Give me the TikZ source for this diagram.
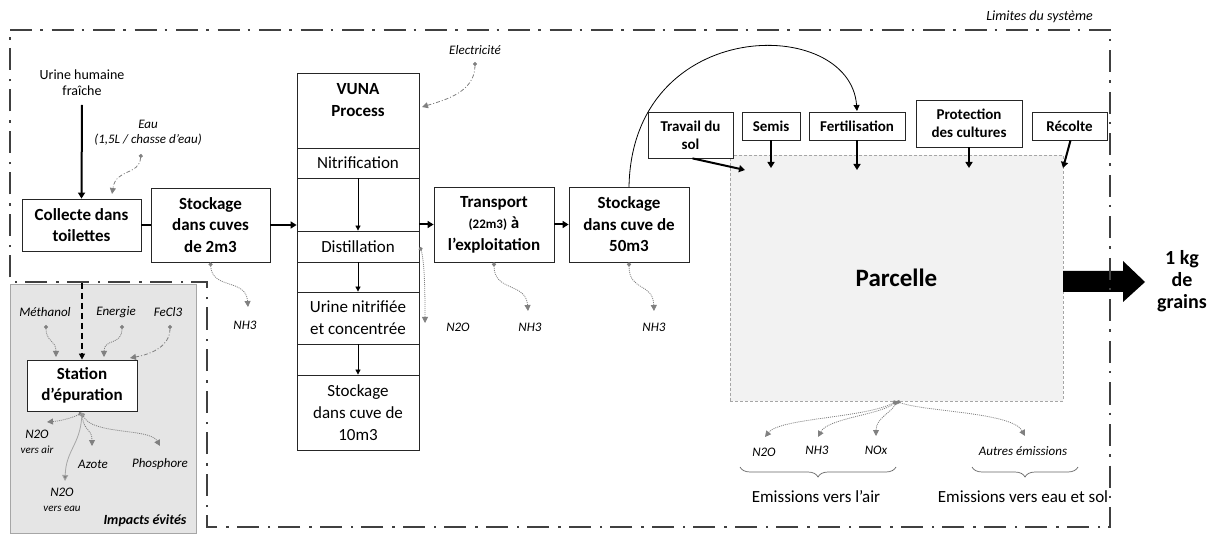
\documentclass[tikz,border=0pt]{standalone}
\usepackage{fontspec}
\setmainfont{Carlito}
\usetikzlibrary{arrows.meta,decorations.pathreplacing,calc}
\begin{document}
\begin{tikzpicture}[x=1pt,y=-1pt,
  box/.style={draw=black!85,line width=0.8pt,fill=white,align=center,inner sep=0pt},
  bt/.style={font=\fontsize{17}{21.5}\selectfont\bfseries},
  nt/.style={font=\fontsize{17}{22}\selectfont},
  st/.style={font=\fontsize{15}{18}\selectfont\bfseries},
  lab/.style={font=\fontsize{13}{15}\selectfont\itshape,text=black,inner sep=0pt,align=center},
  thickarr/.style={line width=2pt,-{Triangle[length=6pt,width=7pt]}},
  thinarr/.style={line width=0.8pt,-{Triangle[length=5pt,width=5pt]}},
  gcon/.style={draw=gray,line width=0.8pt,{Circle[length=4pt,fill=gray]}-{Triangle[length=6pt,width=6pt,fill=gray]}},
  gdot/.style={dash pattern=on 1pt off 1pt},
  gdd/.style={dash pattern=on 4pt off 2pt on 1pt off 2pt},
]
\useasboundingbox (0,0) rectangle (1215,534);

% Impacts evites zone
\draw[fill=gray!20,draw=gray!70,line width=0.6pt] (10,284) rectangle (196,533.5);
\node[anchor=east,font=\fontsize{14}{16}\selectfont\bfseries\itshape] (impacts) at (190,521) {Impacts évités};

% Parcelle
\node[draw=gray!70,fill=gray!10,line width=0.6pt,dash pattern=on 3pt off 2pt,minimum width=333pt,minimum height=246pt,inner sep=0pt,font=\fontsize{25}{28}\selectfont\bfseries] (parcelle) at (896.5,278) {Parcelle};

% Output big arrow
\fill[black] (1063,271) -- (1123,271) -- (1123,261) -- (1145,282) -- (1123,302) -- (1123,292) -- (1063,292) -- cycle;
\node[align=center,font=\fontsize{20}{22}\selectfont\bfseries,inner sep=0pt] (grains) at (1182,281) {1 kg\\de\\grains};

% Big curve from stockage 50 to fertilisation
\coordinate (curvestart) at (629,187);
\coordinate (fertin) at (857,111);

% Left chain
\node[align=center,font=\fontsize{14}{16}\selectfont,inner sep=0pt] (urine) at (82,83) {Urine humaine\\fraîche};
\node[box,bt,minimum width=119pt,minimum height=52pt] (collecte) at (81.5,225) {Collecte dans\\toilettes};
\node[lab] (eau) at (148,133) {Eau\\(1,5L / chasse d’eau)};
\node[box,bt,minimum width=119pt,minimum height=74pt] (stock2) at (210.5,225) {Stockage\\dans cuves\\de 2m3};

% VUNA
\node[box,minimum width=122pt,minimum height=377pt] (vuna) at (358,261.5) {};
\node[bt,align=center,inner sep=0pt] (vunat) at (358,100) {VUNA\\Process};
\node[box,nt,minimum width=122pt,minimum height=30pt] (nitri) at (358,163) {Nitrification};
\node[box,nt,minimum width=122pt,minimum height=31pt] (disti) at (358,246.5) {Distillation};
\node[box,nt,minimum width=122pt,minimum height=52pt] (urinen) at (358,318) {Urine nitrifiée\\et concentrée};
\node[box,nt,minimum width=122pt,minimum height=75pt] (stock10) at (358,412.5) {Stockage\\dans cuve de\\10m3};
\node[lab] (elec) at (475,50) {Electricité};

\node[box,bt,minimum width=120pt,minimum height=75pt] (transport) at (494,224.5) {Transport\\{\fontsize{13}{15}\selectfont\bfseries (22m3)} à\\l’exploitation};
\node[box,bt,minimum width=120pt,minimum height=75pt] (stock50) at (629,224.5) {Stockage\\dans cuve de\\50m3};

\draw[line width=0.8pt,-{Triangle[length=6pt,width=6pt]}] (curvestart) .. controls (632,15) and (850,15) .. (fertin);

% Top operations
\node[box,st,minimum width=85pt,minimum height=46pt] (travail) at (690.5,135) {Travail du\\sol};
\node[box,st,minimum width=58pt,minimum height=28pt] (semis) at (771,126) {Semis};
\node[box,st,minimum width=96pt,minimum height=28pt] (fert) at (857,126) {Fertilisation};
\node[box,st,minimum width=106pt,minimum height=47pt] (prot) at (969,123.5) {Protection\\des cultures};
\node[box,st,minimum width=75pt,minimum height=28pt] (recolte) at (1069.5,126) {Récolte};

\coordinate (tin) at (745,170);
\coordinate (sin) at (771,168);
\coordinate (fin) at (857,170);
\coordinate (pin) at (969,168);
\coordinate (rin) at (1063,168);
\draw[thickarr] ([xshift=2pt]travail.south) -- (tin);
\draw[thickarr] (semis.south) -- (sin);
\draw[thickarr] (fert.south) -- (fin);
\draw[thickarr] (prot.south) -- (pin);
\draw[thickarr] ([xshift=1pt]recolte.south) -- (rin);

% Station
\node[box,bt,minimum width=110pt,minimum height=51pt] (station) at (82,385.5) {Station\\d’épuration};
\node[lab] (metha) at (45,312) {Méthanol};
\node[lab] (energ) at (116,312) {Energie};
\node[lab] (fecl) at (168,312) {FeCl3};
\node[lab] (n2oair) at (37,442) {N2O\\{\fontsize{11}{13}\selectfont vers air}};
\node[lab] (azote) at (93,464) {Azote};
\node[lab] (phos) at (160,464) {Phosphore};
\node[lab] (n2oeau) at (62,500) {N2O\\{\fontsize{11}{13}\selectfont vers eau}};

% Main flow arrows
\draw[thickarr] (urine.south |- 0,105) -- (collecte.north);
\draw[line width=2pt] (collecte.east) -- (stock2.west);
\draw[thickarr] (stock2.east) -- (vuna.west |- stock2.east);
\draw[thickarr] (vuna.east |- transport.west) -- (transport.west);
\draw[thickarr] (transport.east) -- (stock50.west);
\draw[thinarr] (nitri.south) -- (disti.north);
\draw[thinarr] (disti.south) -- (urinen.north);
\draw[thinarr] (urinen.south) -- (stock10.north);
\coordinate (dashstart) at (82,283);
\draw[line width=1.5pt,dash pattern=on 6pt off 4pt,-{Triangle[length=6pt,width=6pt]}] (dashstart) -- (station.north);

% Gray connectors
\coordinate (eaudot) at (141,154);
\coordinate (eauend) at (112,194);
\draw[gcon,gdd] (eaudot) .. controls (139,176) and (116,168) .. (eauend);

\node[lab] (nh3a) at (245,325) {NH3};
\coordinate (nh3aend) at (248,307);
\draw[gcon,gdot] (stock2.south) .. controls (212,290) and (246,278) .. (nh3aend);

\coordinate (methdot) at (46,325);
\coordinate (methend) at (56,357);
\draw[gcon,gdot] (methdot) .. controls (46,342) and (56,340) .. (methend);
\coordinate (endot) at (122,325);
\coordinate (enend) at (104,357);
\draw[gcon,gdot] (endot) .. controls (122,346) and (104,338) .. (enend);
\coordinate (fedot) at (170,325);
\coordinate (feend) at (130,358);
\draw[gcon,gdd] (fedot) .. controls (170,346) and (152,354) .. (feend);

\coordinate (stdot) at (82,413);
\coordinate (n2oairend) at (47,422);
\coordinate (azend) at (92,446);
\coordinate (phend) at (160,446);
\coordinate (n2oeauend) at (65,481);
\draw[gcon,gdot] (stdot) .. controls (72,418) and (60,421) .. (n2oairend);
\draw[gcon,gdot] (stdot) .. controls (84,432) and (92,428) .. (azend);
\draw[gcon,gdot] (stdot) .. controls (92,435) and (150,428) .. (phend);
\draw[gcon,draw=gray!70] (stdot) .. controls (80,445) and (66,450) .. (n2oeauend);

\coordinate (elecdot) at (475,62);
\coordinate (elecend) at (422,107);
\draw[gcon,gdd] (elecdot) .. controls (475,92) and (445,100) .. (elecend);

\node[lab] (n2ob) at (458,327) {N2O};
\coordinate (distdot) at (420,247);
\coordinate (n2obend) at (425,323);
\draw[gcon,gdot] (distdot) .. controls (425,262) and (425,300) .. (n2obend);

\node[lab] (nh3b) at (530,327) {NH3};
\coordinate (nh3bend) at (528,311);
\draw[gcon,gdot] (transport.south) .. controls (494,292) and (526,282) .. (nh3bend);

\node[lab] (nh3c) at (654,327) {NH3};
\coordinate (nh3cend) at (654,311);
\draw[gcon,gdot] (stock50.south) .. controls (629,292) and (653,282) .. (nh3cend);

% Parcelle emissions
\node[lab] (pn2o) at (764,452) {N2O};
\node[lab] (pnh3) at (817,450) {NH3};
\node[lab] (pnox) at (876,450) {NOx};
\node[lab] (pautres) at (1023,451) {Autres émissions};
\coordinate (pe1) at (765,437);
\coordinate (pe2) at (818,437);
\coordinate (pe3) at (876,436);
\coordinate (pe4) at (1025,436);
\draw[gcon,gdot] (parcelle.south) .. controls (865,418) and (780,418) .. (pe1);
\draw[gcon,gdot] (parcelle.south) .. controls (880,415) and (828,418) .. (pe2);
\draw[gcon,gdot] (parcelle.south) .. controls (892,412) and (876,418) .. (pe3);
\draw[gcon,gdot] (parcelle.south) .. controls (925,412) and (1012,412) .. (pe4);

\coordinate (b1a) at (740,467);
\coordinate (b1b) at (896,467);
\coordinate (b2a) at (972,467);
\coordinate (b2b) at (1078,467);
\draw[gray!80!black,line width=0.7pt,decorate,decoration={brace,mirror,amplitude=10pt}] (b1a) -- (b1b);
\draw[gray!80!black,line width=0.7pt,decorate,decoration={brace,mirror,amplitude=10pt}] (b2a) -- (b2b);
\node[nt,inner sep=0pt] (emair) at (816,497) {Emissions vers l’air};
\node[nt,inner sep=0pt] (emeau) at (1023,497) {Emissions vers eau et sol};

% System boundary
\draw[line width=2.5pt,draw=black!75,dash pattern=on 22pt off 8pt on 2.5pt off 9pt] (10,30) -- (1110,30) -- (1110,527) -- (207,527) -- (207,282) -- (10,282) -- cycle;
\node[anchor=east,font=\fontsize{14}{16}\selectfont\itshape,inner sep=0pt] (limites) at (1093,17) {Limites du système};
\end{tikzpicture}
\end{document}
